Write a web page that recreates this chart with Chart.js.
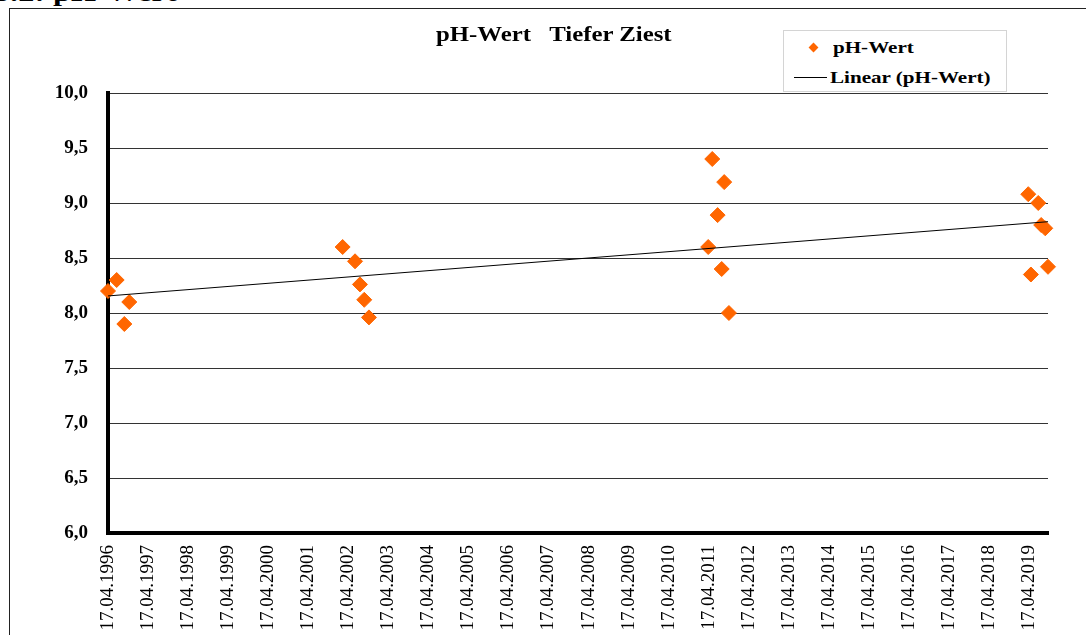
<!DOCTYPE html>
<html>
<head>
    <meta charset="utf-8">
    <title>pH-Wert Tiefer Ziest</title>
    <script src="https://cdn.jsdelivr.net/npm/chart.js"></script>
    <style>
        body { margin: 0; width: 1086px; height: 635px; overflow: hidden; background: #fff; position: relative;
               font-family: "Liberation Serif", "Times New Roman", serif; color: #000; }
        .frame { position: absolute; left: 9px; top: 8px; width: 1200px; height: 800px; border: 1px solid #222; }
        .stretch { position: absolute; font-weight: bold; line-height: 1; white-space: nowrap;
                   transform: scaleX(1.24); transform-origin: 0 0; }
        #heading { left: -6px; top: -20px; font-size: 26px; }
        #title { left: 436px; top: 24px; font-size: 20px; }
        #legend { position: absolute; left: 783px; top: 30px; width: 222px; height: 60px;
                  border: 1px solid #d4d4d4; background: #fff; }
        #legend .txt { font-size: 17px; }
        .diamond { position: absolute; left: 26px; top: 13px; width: 7px; height: 7px; background: #ff6600;
                   transform: rotate(45deg); }
        .trendline { position: absolute; left: 10px; top: 46px; width: 33px; height: 1px; background: #000; }
        canvas { position: absolute; left: 0; top: 0; }
    </style>
</head>
<body>
    <div class="frame"></div>
    <div id="heading" class="stretch">5.2: pH-Wert</div>
    <canvas id="ph-chart" width="1086" height="635"></canvas>
    <div id="title" class="stretch">pH-Wert&nbsp;&nbsp; Tiefer Ziest</div>
    <div id="legend">
        <div class="diamond"></div>
        <div class="stretch txt" style="left: 49px; top: 8px;">pH-Wert</div>
        <div class="trendline"></div>
        <div class="stretch txt" style="left: 46px; top: 38px;">Linear (pH-Wert)</div>
    </div>

    <script>
        // x axis labels (Excel date axis, one per year)
        const tickLabels = ['17.04.1996', '17.04.1997', '17.04.1998', '17.04.1999', '17.04.2000', '17.04.2001',
            '17.04.2002', '17.04.2003', '17.04.2004', '17.04.2005', '17.04.2006', '17.04.2007', '17.04.2008',
            '17.04.2009', '17.04.2010', '17.04.2011', '17.04.2012', '17.04.2013', '17.04.2014', '17.04.2015',
            '17.04.2016', '17.04.2017', '17.04.2018', '17.04.2019'];

        const sampleDates = [
            '17.04.1996', '05.07.1996', '13.09.1996', '28.10.1996',
            '25.02.2002', '18.06.2002', '02.08.2002', '10.09.2002', '23.10.2002',
            '13.04.2011', '20.05.2011', '08.07.2011', '14.08.2011', '06.09.2011', '19.10.2011',
            '10.04.2019', '04.05.2019', '10.07.2019', '06.08.2019', '12.09.2019', '07.10.2019'];
        const phValues = [
            8.20, 8.30, 7.90, 8.10,
            8.60, 8.47, 8.26, 8.12, 7.96,
            8.60, 9.40, 8.89, 8.40, 9.19, 8.00,
            9.08, 8.35, 9.00, 8.80, 8.77, 8.42];

        // Linear (pH-Wert) end points
        const trendDates = ['17.04.1996', '07.10.2019'];
        const trendValues = [8.155, 8.83];

        const yTicks = [6.0, 6.5, 7.0, 7.5, 8.0, 8.5, 9.0, 9.5, 10.0];

        function toDay(s) {
            const [d, m, y] = s.split('.').map(Number);
            return Date.UTC(y, m - 1, d) / 86400000;
        }

        const tickDays = tickLabels.map(toDay);
        const serif = '"Liberation Serif", "Times New Roman", serif';

        const ctx = document.getElementById('ph-chart').getContext('2d');
        new Chart(ctx, {
            type: 'scatter',
            data: {
                datasets: [{
                    label: 'Linear (pH-Wert)',
                    type: 'line',
                    data: trendDates.map((d, i) => ({ x: toDay(d), y: trendValues[i] })),
                    borderColor: '#000',
                    borderWidth: 1,
                    pointRadius: 0,
                    fill: false,
                    order: 0
                },
                {
                    label: 'pH-Wert',
                    data: sampleDates.map((d, i) => ({ x: toDay(d), y: phValues[i] })),
                    pointStyle: 'rectRot',
                    pointRadius: 7.5,
                    backgroundColor: '#ff6600',
                    borderColor: '#ff6600',
                    borderWidth: 1,
                    clip: false,
                    order: 1
                }]
            },
            options: {
                responsive: false,
                animation: false,
                events: [],
                layout: { padding: { left: 0, top: 93, right: 38, bottom: 0 } },
                plugins: { legend: { display: false }, tooltip: { enabled: false } },
                scales: {
                    x: {
                        type: 'linear',
                        min: toDay(sampleDates[0]),
                        max: toDay(sampleDates[sampleDates.length - 1]),
                        afterBuildTicks: scale => { scale.ticks = tickDays.map(v => ({ value: v })); },
                        afterFit: scale => { scale.height = 102; },
                        grid: { display: false, drawTicks: false },
                        border: { display: true, color: '#000', width: 4 },
                        ticks: {
                            autoSkip: false,
                            minRotation: 90,
                            maxRotation: 90,
                            padding: 12,
                            color: '#000',
                            font: { family: serif, size: 19 },
                            callback: v => {
                                const i = tickDays.indexOf(v);
                                return i >= 0 ? tickLabels[i] : '';
                            }
                        }
                    },
                    y: {
                        min: yTicks[0],
                        max: yTicks[yTicks.length - 1],
                        afterBuildTicks: scale => { scale.ticks = yTicks.map(v => ({ value: v })); },
                        afterFit: scale => { scale.width = 108; },
                        grid: { color: '#333', lineWidth: 1, drawTicks: false },
                        border: { display: true, color: '#000', width: 4 },
                        ticks: {
                            padding: 20,
                            color: '#000',
                            font: { family: serif, size: 19, weight: 'bold' },
                            callback: v => v.toFixed(1).replace('.', ',')
                        }
                    }
                }
            }
        });
    </script>
</body>
</html>
